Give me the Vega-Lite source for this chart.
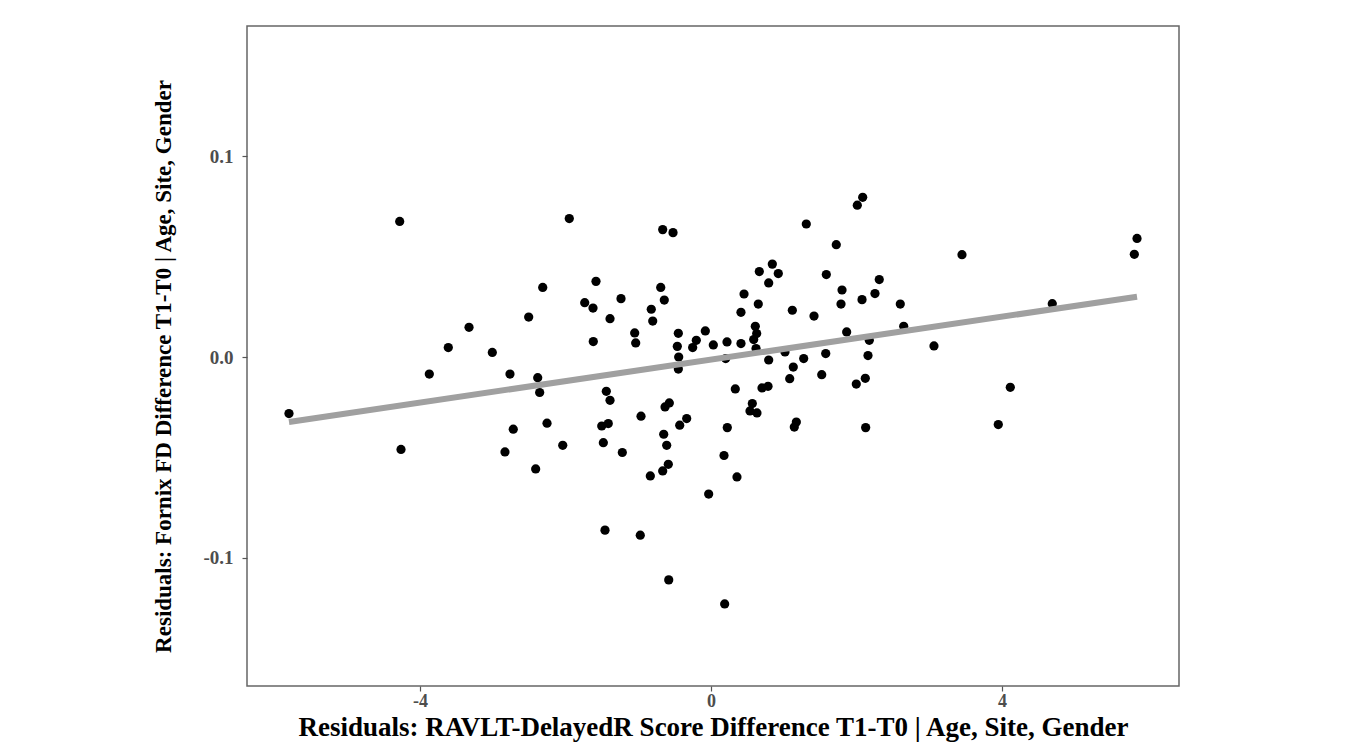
{
  "$schema": "https://vega.github.io/schema/vega-lite/v6.json",
  "autosize": {"type": "none"},
  "padding": {"left": 247, "top": 26, "right": 179, "bottom": 58},
  "width": 932,
  "height": 660,
  "background": "white",
  "config": {
    "view": {"stroke": "#666666", "strokeWidth": 1.5},
    "axis": {
      "grid": false,
      "domain": false,
      "labelFont": "Liberation Serif",
      "labelFontWeight": "bold",
      "labelFontSize": 19,
      "labelColor": "#4d4d4d",
      "tickColor": "#555555",
      "tickSize": 5,
      "tickWidth": 1.2,
      "titleFont": "Liberation Serif",
      "titleFontWeight": "bold",
      "titleColor": "black"
    }
  },
  "data": {
    "values": [
      {"x": -5.801, "y": -0.0282}, {"x": -4.279, "y": 0.0676}, {"x": -4.261, "y": -0.0461}, {"x": -3.326, "y": 0.0148},
      {"x": -3.611, "y": 0.0047}, {"x": -3.872, "y": -0.0085}, {"x": -1.948, "y": 0.069}, {"x": -0.664, "y": 0.0635},
      {"x": -0.522, "y": 0.062}, {"x": -1.581, "y": 0.0377}, {"x": -2.313, "y": 0.0347}, {"x": -0.691, "y": 0.0347},
      {"x": -1.736, "y": 0.0271}, {"x": -1.622, "y": 0.0244}, {"x": -1.237, "y": 0.0291}, {"x": -0.642, "y": 0.0284},
      {"x": -2.506, "y": 0.0199}, {"x": -1.388, "y": 0.0191}, {"x": -0.821, "y": 0.0238}, {"x": -0.801, "y": 0.0179},
      {"x": -1.618, "y": 0.0077}, {"x": -1.049, "y": 0.012}, {"x": -1.035, "y": 0.007}, {"x": -0.449, "y": 0.0118},
      {"x": -0.463, "y": 0.0053}, {"x": -0.444, "y": 0.0}, {"x": -0.449, "y": -0.006}, {"x": -0.202, "y": 0.0083},
      {"x": -0.252, "y": 0.0047}, {"x": -0.078, "y": 0.013}, {"x": -3.006, "y": 0.0023}, {"x": -2.763, "y": -0.0085},
      {"x": -2.382, "y": -0.0103}, {"x": -2.355, "y": -0.0177}, {"x": -1.439, "y": -0.0171}, {"x": -1.388, "y": -0.0216},
      {"x": -0.573, "y": -0.0229}, {"x": -0.632, "y": -0.0249}, {"x": -0.962, "y": -0.0295}, {"x": -0.334, "y": -0.0307},
      {"x": -0.43, "y": -0.034}, {"x": -2.718, "y": -0.036}, {"x": -2.254, "y": -0.033}, {"x": -1.502, "y": -0.0344},
      {"x": -1.412, "y": -0.0332}, {"x": -0.65, "y": -0.0385}, {"x": -2.832, "y": -0.0473}, {"x": -2.038, "y": -0.044},
      {"x": -1.48, "y": -0.0427}, {"x": -1.219, "y": -0.0476}, {"x": -0.609, "y": -0.044}, {"x": -2.41, "y": -0.0558},
      {"x": -0.587, "y": -0.0535}, {"x": -0.664, "y": -0.0568}, {"x": -0.834, "y": -0.0593}, {"x": 0.357, "y": -0.0598},
      {"x": -0.032, "y": -0.0683}, {"x": -1.457, "y": -0.0863}, {"x": -0.972, "y": -0.0888}, {"x": -0.581, "y": -0.1111},
      {"x": 0.188, "y": -0.1231}, {"x": 0.179, "y": -0.0491}, {"x": 2.085, "y": 0.0796}, {"x": 2.011, "y": 0.0757},
      {"x": 1.31, "y": 0.0663}, {"x": 1.722, "y": 0.056}, {"x": 0.843, "y": 0.0463}, {"x": 0.664, "y": 0.0426},
      {"x": 0.925, "y": 0.0416}, {"x": 1.585, "y": 0.0411}, {"x": 0.793, "y": 0.0369}, {"x": 2.313, "y": 0.0386},
      {"x": 1.801, "y": 0.0334}, {"x": 2.254, "y": 0.0316}, {"x": 0.454, "y": 0.0314}, {"x": 2.076, "y": 0.0286},
      {"x": 0.65, "y": 0.0264}, {"x": 1.787, "y": 0.0264}, {"x": 2.602, "y": 0.0264}, {"x": 1.118, "y": 0.0233},
      {"x": 0.412, "y": 0.0223}, {"x": 1.416, "y": 0.0204}, {"x": 0.609, "y": 0.0153}, {"x": 0.628, "y": 0.0117},
      {"x": 0.587, "y": 0.0087}, {"x": 0.032, "y": 0.006}, {"x": 0.22, "y": 0.0075}, {"x": 0.412, "y": 0.0067},
      {"x": 1.865, "y": 0.0125}, {"x": 2.649, "y": 0.0153}, {"x": 2.176, "y": 0.0083}, {"x": 0.619, "y": 0.0042},
      {"x": 0.202, "y": -0.0008}, {"x": 1.017, "y": 0.0025}, {"x": 0.793, "y": -0.0015}, {"x": 1.274, "y": -0.0008},
      {"x": 1.577, "y": 0.0017}, {"x": 2.158, "y": 0.0007}, {"x": 3.065, "y": 0.0055}, {"x": 1.131, "y": -0.005},
      {"x": 1.082, "y": -0.0108}, {"x": 1.522, "y": -0.0088}, {"x": 1.997, "y": -0.0135}, {"x": 2.121, "y": -0.0106},
      {"x": 0.334, "y": -0.0159}, {"x": 0.701, "y": -0.0154}, {"x": 0.784, "y": -0.0146}, {"x": 0.568, "y": -0.0232},
      {"x": 0.536, "y": -0.0269}, {"x": 0.632, "y": -0.0279}, {"x": 1.173, "y": -0.0324}, {"x": 1.145, "y": -0.0349},
      {"x": 0.224, "y": -0.0352}, {"x": 2.126, "y": -0.0352}, {"x": 5.856, "y": 0.0591}, {"x": 5.819, "y": 0.0512},
      {"x": 3.45, "y": 0.051}, {"x": 4.691, "y": 0.0266}, {"x": 4.114, "y": -0.0151}, {"x": 3.949, "y": -0.0337}
    ]
  },
  "layer": [
    {
      "mark": {"type": "circle", "size": 85, "color": "black", "opacity": 1},
      "encoding": {
        "x": {
          "field": "x", "type": "quantitative",
          "scale": {"domain": [-6.378, 6.433], "nice": false, "zero": false},
          "axis": {"values": [-4, 0, 4], "format": "d", "labelExpr": "replace(datum.label, '\u2212', '-')",
                   "labelFontSize": 18, "labelPadding": 1, "titlePadding": 4, "titleFontSize": 27,
                   "title": "Residuals: RAVLT-DelayedR Score Difference T1-T0 | Age, Site, Gender"}
        },
        "y": {
          "field": "y", "type": "quantitative",
          "scale": {"domain": [-0.164, 0.165], "nice": false, "zero": false},
          "axis": {"values": [-0.1, 0, 0.1], "format": ".1f", "labelExpr": "replace(datum.label, '\u2212', '-')",
                   "labelPadding": 9, "titlePadding": 27, "titleFontSize": 23,
                   "titleY": 340,
                   "title": "Residuals: Fornix FD Difference T1-T0 | Age, Site, Gender"}
        }
      }
    },
    {
      "transform": [{"regression": "y", "on": "x"}],
      "mark": {"type": "line", "color": "#a0a0a0", "strokeWidth": 6},
      "encoding": {
        "x": {"field": "x", "type": "quantitative"},
        "y": {"field": "y", "type": "quantitative"}
      }
    }
  ]
}
